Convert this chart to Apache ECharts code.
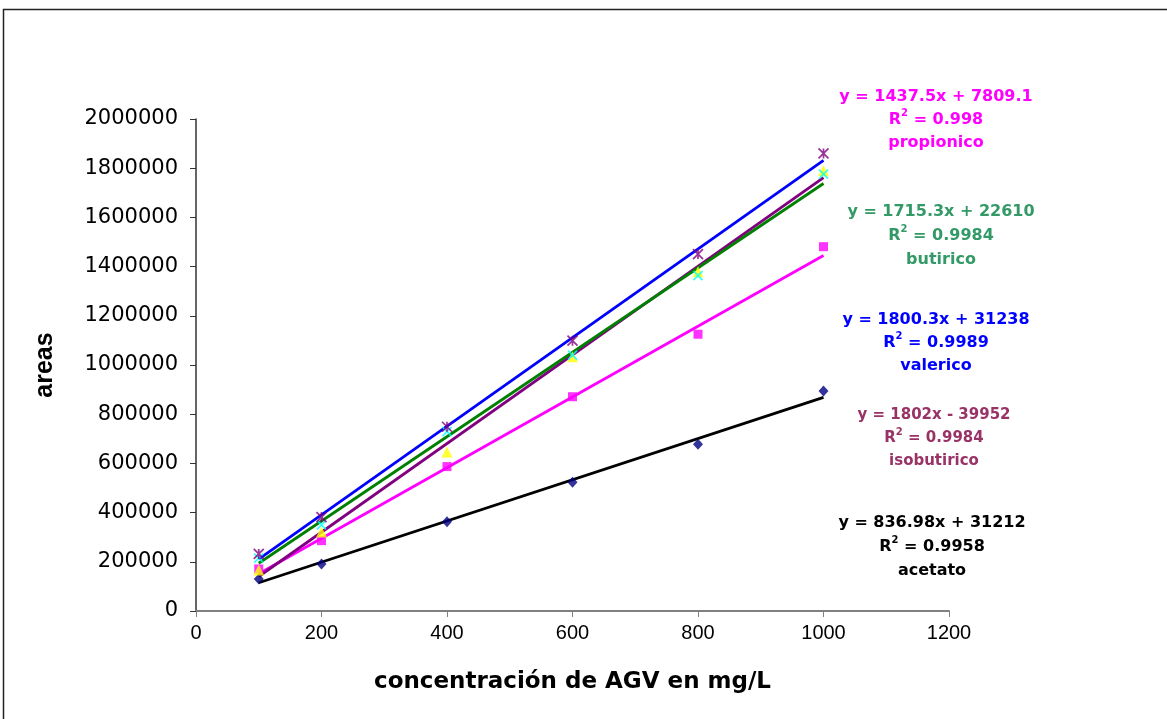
<!DOCTYPE html>
<html>
<head>
<meta charset="utf-8">
<script src="https://cdn.jsdelivr.net/npm/echarts@6/dist/echarts.min.js"></script>
<style>
html,body{margin:0;padding:0;background:#fff;}
#chart{width:1167px;height:719px;}
</style>
</head>
<body>
<div id="chart"></div>
<script>
// concentrations (mg/L)
const conc = [100, 200, 400, 600, 800, 1000];
// measured areas
const acetato     = [130000, 191000, 363000, 523000, 678000, 894000];
const propionico  = [171000, 286000, 587000, 871000, 1125000, 1481000];
const isobutirico = [167000, 321000, 646000, 1034000, 1379000, 1790000];
const butirico    = [215000, 350000, 729000, 1040000, 1363000, 1776000];
const valerico    = [232000, 382000, 749000, 1099000, 1451000, 1860000];
// trendline end points [x, y] at x=100 and x=1000
const trendAcetato     = [[100, 114910], [1000, 868192]];
const trendPropionico  = [[100, 151559], [1000, 1445309]];
const trendIsobutirico = [[100, 140248], [1000, 1762048]];
const trendButirico    = [[100, 194140], [1000, 1737910]];
const trendValerico    = [[100, 211268], [1000, 1831538]];
// equation labels
const eqAcetato     = ['y = 836.98x + 31212', '0.9958', 'acetato'];
const eqPropionico  = ['y = 1437.5x + 7809.1', '0.998', 'propionico'];
const eqIsobutirico = ['y = 1802x - 39952', '0.9984', 'isobutirico'];
const eqButirico    = ['y = 1715.3x + 22610', '0.9984', 'butirico'];
const eqValerico    = ['y = 1800.3x + 31238', '0.9989', 'valerico'];

const xTicks = [0, 1200, 200];
const yTicks = [0, 2000000, 200000];

function pts(ys){ return conc.map((c,i)=>[c, ys[i]]); }

const XSYM = 'path://M0,0L10,10M10,0L0,10';
const STARSYM = 'path://M0,0L10,10M10,0L0,10M5,0L5,10';

function scatter(name, ys, symbol, size, color, stroke){
  return {
    name, type:'scatter', data: pts(ys), symbol, symbolSize:size, z:3,
    itemStyle: stroke ? {color:'transparent', borderColor:color, borderWidth:1.7} : {color}
  };
}
function trend(name, d, color){
  return {name:name+'_t', type:'line', data:d, symbol:'none', z:2,
    lineStyle:{color, width:2.8}, silent:true};
}
function mk(lines, color, cx, y, fs, lh){
  const fam = '"DejaVu Sans", sans-serif';
  return {
    type:'text', x: cx, y: y, z:10,
    style:{
      text: '{r|'+lines[0]+'}\n{r|R}{s|2}{r| = ' + lines[1] + '}\n{r|' + lines[2] + '}',
      fill: color, align:'center', verticalAlign:'top',
      rich:{
        r:{fill:color, fontWeight:'bold', fontSize:fs, fontFamily:fam, lineHeight:lh, align:'center'},
        s:{fill:color, fontWeight:'bold', fontSize:10, fontFamily:fam, lineHeight:lh-6, verticalAlign:'top', align:'center'}
      }
    }
  };
}

const chart = echarts.init(document.getElementById('chart'));
chart.setOption({
  animation:false,
  backgroundColor:'#fff',
  grid:{left:196, right:218, top:119, bottom:108},
  xAxis:{
    type:'value', min:xTicks[0], max:xTicks[1], interval:xTicks[2],
    name:'concentración de AGV en mg/L', nameLocation:'middle', nameGap:60,
    nameTextStyle:{fontSize:23, fontWeight:'bold', color:'#000', fontFamily:'DejaVu Sans'},
    axisLine:{lineStyle:{color:'#808080', width:2}},
    axisTick:{inside:false, length:6, lineStyle:{color:'#808080', width:1}},
    axisLabel:{fontSize:20, color:'#000', margin:12, fontFamily:'Liberation Sans',
      formatter:v=>String(v)},
    splitLine:{show:false}
  },
  yAxis:{
    type:'value', min:yTicks[0], max:yTicks[1], interval:yTicks[2],
    name:'areas', nameLocation:'middle', nameGap:138, nameRotate:90,
    nameTextStyle:{fontSize:25, fontWeight:'bold', color:'#000', fontFamily:'Liberation Sans'},
    axisLine:{lineStyle:{color:'#333', width:1.5}},
    axisTick:{inside:false, length:6, lineStyle:{color:'#333', width:1}},
    axisLabel:{fontSize:21, color:'#000', margin:18, fontFamily:'DejaVu Sans',
      formatter:v=>String(v)},
    splitLine:{show:false}
  },
  series:[
    scatter('acetato', acetato, 'diamond', [10,11], '#000080'),
    scatter('propionico', propionico, 'rect', 9, '#ff00ff'),
    scatter('isobutirico', isobutirico, 'triangle', 11, '#ffff00'),
    scatter('butirico', butirico, XSYM, 9, '#00ffff', true),
    scatter('valerico', valerico, STARSYM, 10, '#800080', true),
    trend('acetato', trendAcetato, '#000000'),
    trend('propionico', trendPropionico, '#ff00ff'),
    trend('isobutirico', trendIsobutirico, '#800080'),
    trend('butirico', trendButirico, '#008000'),
    trend('valerico', trendValerico, '#0000ff')
  ],
  graphic:[
    {type:'rect', shape:{x:3.5, y:9.5, width:1200, height:800}, style:{fill:'none', stroke:'#222', lineWidth:1.5}, z:-1},
    mk(eqPropionico, '#ff00ff', 936, 85, 16, 23),
    mk(eqButirico, '#339966', 941, 200, 16, 24),
    mk(eqValerico, '#0000ff', 936, 308, 16, 23),
    mk(eqIsobutirico, '#993366', 934, 404, 15, 23),
    mk(eqAcetato, '#000000', 932, 511, 16, 24)
  ]
});
</script>
</body>
</html>
